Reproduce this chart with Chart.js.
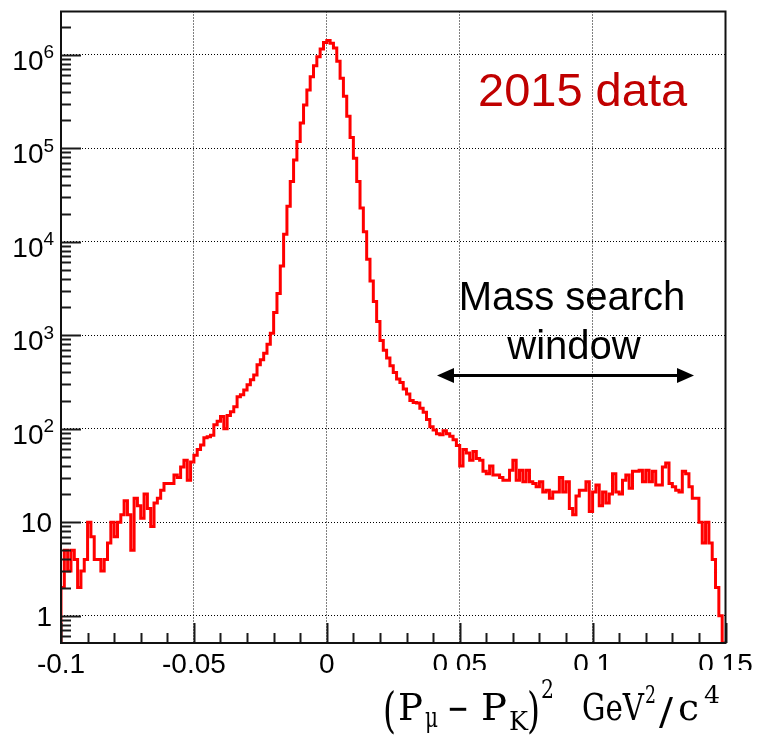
<!DOCTYPE html>
<html><head><meta charset="utf-8">
<script src="https://cdn.jsdelivr.net/npm/chart.js@4/dist/chart.umd.min.js"></script>
<style>html,body{margin:0;padding:0;background:#fff;}#wrap{width:757px;height:741px;}</style>
</head><body><div id="wrap"><canvas id="c" width="757" height="741"></canvas></div>
<script>
// ---- data ----
const X_MIN = -0.1, X_MAX = 0.15, BIN_WIDTH = 0.00125;
const Y_MIN = 0.51, Y_MAX = 2.9e6;
const counts = [
 2,5,3,5,4,2,3,4,10,7,
 4,4,3,4,6,10,7,10,12,17,
 12,5,18,15,11,20,14,9,16,18,
 22,26,26,26,32,30,39,46,28,44,
 52,60,67,80,82,85,110,120,135,100,
 138,152,172,220,230,260,295,333,375,482,
 545,643,800,1050,1750,2800,5500,12000,24000,44000,
 75000,118000,186000,290000,420000,580000,760000,950000,1150000,1350000,
 1420000,1330000,1180000,850000,560000,360000,220000,130000,78000,44000,
 23000,12800,6500,3800,2300,1400,880,690,570,470,
 400,340,312,265,235,200,190,188,165,150,
 125,105,97,88,86,95,88,83,76,66,
 40,60,55,46,57,48,46,35,33,40,
 32,32,30,28,28,36,46,28,36,27,
 36,27,26,24,27,21,22,18,21,21,
 30,21,27,14,12,19,22,22,27,13,
 21,25,15,21,16,20,33,21,20,28,
 32,23,35,35,36,27,36,27,35,25,
 25,39,43,26,24,22,21,35,33,24,
 18,18,10,6,10,6,4,2,1,0
];
const xMajorTicks = [-0.1, -0.05, 0, 0.05, 0.1, 0.15];
const xTickLabels = ['-0.1', '-0.05', '0', '0.05', '0.1', '0.15'];
const X_MINOR_STEP = 0.01;
const yMajorTicks = [1, 10, 100, 1000, 10000, 100000, 1000000];
const yTickBase = ['1', '10', '10', '10', '10', '10', '10'];
const yTickExp  = ['', '', '2', '3', '4', '5', '6'];
const titleText = '2015 data';
const windowText = ['Mass search', 'window'];

// ---- build step points from bins ----
const pts = [{x: X_MIN, y: Y_MIN}];
counts.forEach((c, i) => pts.push({x: X_MIN + i * BIN_WIDTH, y: c > 0 ? c : Y_MIN}));
pts.push({x: X_MAX, y: Y_MIN});

const SANS = '"Liberation Sans", Arial, Helvetica, sans-serif';
const SERIF = '"DejaVu Serif", "Liberation Serif", serif';

function fitText(ctx, t, left, right, base, fs) {
  ctx.font = fs + 'px ' + SERIF;
  const w = ctx.measureText(t).width;
  const sx = (right - left) / w;
  ctx.save();
  ctx.translate(left, base);
  ctx.scale(sx, 1);
  ctx.fillText(t, 0, 0);
  ctx.restore();
}

const rootPlugin = {
  id: 'rootAxes',
  afterDraw(chart) {
    const {ctx, chartArea: a, scales: {x, y}} = chart;
    ctx.save();
    ctx.strokeStyle = '#1a1a1a';
    ctx.lineWidth = 2;
    // y ticks (inside)
    for (let d = -1; d <= 7; d++) {
      for (let m = 1; m <= 9; m++) {
        const v = m * Math.pow(10, d);
        if (v < Y_MIN || v > Y_MAX) continue;
        const py = Math.round(y.getPixelForValue(v)) + 0.5;
        const len = m === 1 ? 20 : 10;
        ctx.beginPath(); ctx.moveTo(a.left, py); ctx.lineTo(a.left + len, py); ctx.stroke();
      }
    }
    // x ticks (inside)
    const nMinor = Math.round((X_MAX - X_MIN) / X_MINOR_STEP);
    for (let i = 0; i <= nMinor; i++) {
      const v = X_MIN + i * X_MINOR_STEP;
      const isMajor = xMajorTicks.some(t => Math.abs(t - v) < 1e-9);
      const px = Math.round(x.getPixelForValue(v)) + 0.5;
      const len = isMajor ? 20 : 10;
      ctx.beginPath(); ctx.moveTo(px, a.bottom); ctx.lineTo(px, a.bottom - len); ctx.stroke();
    }
    // frame
    ctx.strokeStyle = '#111';
    ctx.lineWidth = 2;
    ctx.strokeRect(a.left, a.top, a.right - a.left, a.bottom - a.top);

    // y labels
    ctx.fillStyle = '#000';
    ctx.textBaseline = 'alphabetic';
    yMajorTicks.forEach((v, i) => {
      const py = y.getPixelForValue(v);
      if (yTickExp[i] === '') {
        ctx.font = '28px ' + SANS; ctx.textAlign = 'right';
        ctx.fillText(yTickBase[i], 52, py + 10);
      } else {
        ctx.font = '28px ' + SANS; ctx.textAlign = 'right';
        ctx.fillText(yTickBase[i], 43.5, py + 15);
        ctx.font = '19px ' + SANS; ctx.textAlign = 'left';
        ctx.fillText(yTickExp[i], 43.5, py + 3.5);
      }
    });
    // x labels
    ctx.font = '28px ' + SANS; ctx.textAlign = 'center';
    xMajorTicks.forEach((v, i) => {
      ctx.fillText(xTickLabels[i], x.getPixelForValue(v), 673);
    });
    // white band of the pasted axis-title image
    ctx.fillStyle = '#fff';
    ctx.fillRect(368, 670, 757 - 368, 741 - 670);

    // title text
    ctx.fillStyle = '#c00000';
    ctx.font = '47px ' + SANS; ctx.textAlign = 'left';
    ctx.fillText(titleText, 478, 106);

    // window annotation
    ctx.fillStyle = '#000';
    ctx.font = '40px ' + SANS; ctx.textAlign = 'center';
    ctx.fillText(windowText[0], 572, 310);
    ctx.fillText(windowText[1], 574, 359);
    // double arrow
    const ay = 375.5, x1 = 437, x2 = 694, head = 17, hh = 7.5;
    ctx.strokeStyle = '#000'; ctx.lineWidth = 3;
    ctx.beginPath(); ctx.moveTo(x1 + head - 2, ay); ctx.lineTo(x2 - head + 2, ay); ctx.stroke();
    ctx.beginPath(); ctx.moveTo(x1, ay); ctx.lineTo(x1 + head, ay - hh); ctx.lineTo(x1 + head, ay + hh); ctx.closePath(); ctx.fill();
    ctx.beginPath(); ctx.moveTo(x2, ay); ctx.lineTo(x2 - head, ay - hh); ctx.lineTo(x2 - head, ay + hh); ctx.closePath(); ctx.fill();

    // axis title (P_mu - P_K)^2 GeV^2/c^4
    ctx.fillStyle = '#000'; ctx.textAlign = 'left';
    const pieces = [
      ['(', 383, 396, 727, 48], ['P', 398, 423, 720, 37], ['\u03bc', 425, 438, 727, 28],
      ['\u2212', 447, 469, 721, 38], ['P', 481, 507, 720, 37], ['K', 509, 528, 730, 26],
      [')', 527, 540, 727, 48], ['2', 541, 554, 698, 26],
      ['GeV', 582, 644, 720, 37], ['2', 645, 656, 703, 25], ['/', 659, 673, 724, 38],
      ['c', 678, 699, 720, 37], ['4', 704, 720, 703, 25]
    ];
    pieces.forEach(([t, l, r, b, fs]) => fitText(ctx, t, l, r, b, fs));
    ctx.restore();
  }
};

const gridCommon = {color: '#000', lineWidth: 1, drawTicks: false};
new Chart(document.getElementById('c').getContext('2d'), {
  type: 'line',
  data: {datasets: [{
    data: pts, borderColor: '#ff0000', borderWidth: 3, pointRadius: 0,
    stepped: 'before', fill: false, tension: 0, borderJoinStyle: 'miter'
  }]},
  options: {
    responsive: false, animation: false, devicePixelRatio: 1,
    layout: {padding: {top: 11.5, right: 31.5, left: 0, bottom: 0}},
    plugins: {legend: {display: false}, tooltip: {enabled: false}},
    scales: {
      x: {type: 'linear', min: X_MIN, max: X_MAX, bounds: 'data',
          afterFit: s => { s.height = 98; },
          afterBuildTicks: s => { s.ticks = xMajorTicks.map(v => ({value: v})); },
          ticks: {display: false}, grid: gridCommon,
          border: {display: false, dash: [1, 2]}},
      y: {type: 'logarithmic', min: Y_MIN, max: Y_MAX, bounds: 'data',
          afterFit: s => { s.width = 61; },
          afterBuildTicks: s => { s.ticks = yMajorTicks.map(v => ({value: v})); },
          ticks: {display: false}, grid: gridCommon,
          border: {display: false, dash: [1, 2]}}
    }
  },
  plugins: [rootPlugin]
});
</script></body></html>
